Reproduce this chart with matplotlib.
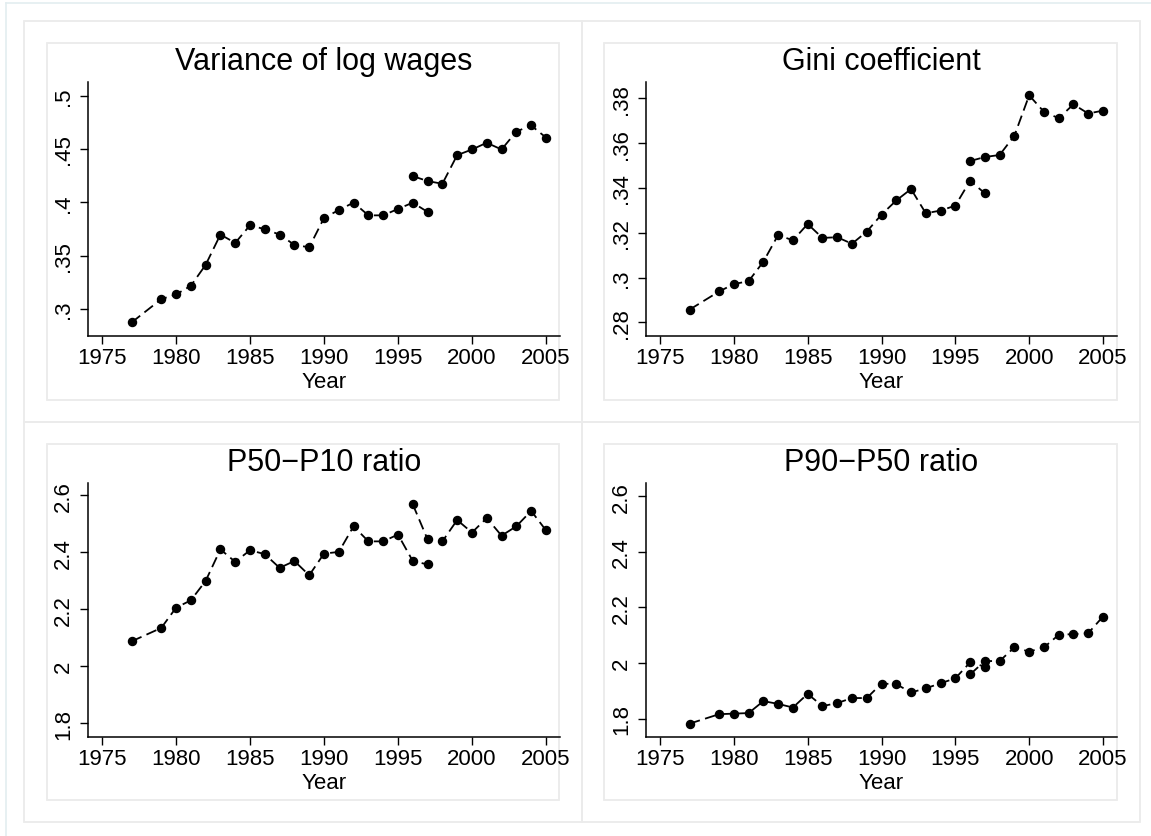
import matplotlib.pyplot as plt
from matplotlib.patches import Rectangle
from matplotlib.lines import Line2D

plt.rcParams['font.family'] = ['Liberation Sans', 'DejaVu Sans']

# data
years1 = [1977, 1979, 1980, 1981, 1982, 1983, 1984, 1985, 1986, 1987,
          1988, 1989, 1990, 1991, 1992, 1993, 1994, 1995, 1996, 1997]
years2 = [1996, 1997, 1998, 1999, 2000, 2001, 2002, 2003, 2004, 2005]

var1 = [0.2875, 0.3093, 0.3137, 0.3218, 0.3414, 0.3698, 0.3620, 0.3785, 0.3748, 0.3698,
        0.3601, 0.3579, 0.3853, 0.3928, 0.3997, 0.3878, 0.3878, 0.3938, 0.3997, 0.3910]
var2 = [0.4246, 0.4199, 0.4174, 0.4442, 0.4495, 0.4558, 0.4495, 0.4663, 0.4720, 0.4607]

gini1 = [0.2857, 0.2938, 0.2971, 0.2984, 0.3071, 0.3190, 0.3166, 0.3239, 0.3177, 0.3180,
         0.3151, 0.3205, 0.3281, 0.3344, 0.3395, 0.3287, 0.3299, 0.3321, 0.3432, 0.3376]
gini2 = [0.3520, 0.3538, 0.3547, 0.3633, 0.3813, 0.3740, 0.3711, 0.3773, 0.3732, 0.3745]

p5010_1 = [2.087, 2.134, 2.205, 2.231, 2.299, 2.410, 2.366, 2.407, 2.393, 2.345,
           2.369, 2.319, 2.395, 2.401, 2.491, 2.438, 2.438, 2.462, 2.369, 2.357]
p5010_2 = [2.568, 2.445, 2.438, 2.513, 2.469, 2.520, 2.458, 2.491, 2.545, 2.477]

p9050_1 = [1.782, 1.816, 1.818, 1.820, 1.863, 1.853, 1.840, 1.889, 1.845, 1.856,
           1.874, 1.874, 1.926, 1.924, 1.894, 1.909, 1.927, 1.945, 2.002, 1.987]
p9050_2 = [1.959, 2.007, 2.007, 2.056, 2.041, 2.056, 2.101, 2.104, 2.107, 2.167]

xticks = [1975, 1980, 1985, 1990, 1995, 2000, 2005]

W, H = 1151, 837
fig = plt.figure(figsize=(W / 100, H / 100), dpi=100)


def frac(x0, y0, x1, y1):
    # pixel box (top-left origin) -> figure fraction
    return [x0 / W, 1 - y1 / H, (x1 - x0) / W, (y1 - y0) / H]


box_col = '#ebebeb'
# outer frame lines (only left/top visible)
fig.add_artist(Line2D([6 / W, 6 / W], [0, 1 - 4 / H], color='#e3edf0', lw=1.2,
                      transform=fig.transFigure, zorder=-2))
fig.add_artist(Line2D([6 / W, 1], [1 - 4 / H, 1 - 4 / H], color='#e3edf0', lw=1.2,
                      transform=fig.transFigure, zorder=-2))

cells_x = [24, 581.7, 1140]
cells_y = [22, 422.7, 823.3]
for i in range(2):
    for j in range(2):
        x0, x1 = cells_x[j], cells_x[j + 1]
        y0, y1 = cells_y[i], cells_y[i + 1]
        r = frac(x0, y0, x1, y1)
        fig.add_artist(Rectangle((r[0], r[1]), r[2], r[3], fill=False, ec=box_col,
                                 lw=1.3, transform=fig.transFigure, zorder=-2))
        r = frac(x0 + 22.7, y0 + 22, x1 - 22.7, y1 - 22)
        fig.add_artist(Rectangle((r[0], r[1]), r[2], r[3], fill=False, ec=box_col,
                                 lw=1.3, transform=fig.transFigure, zorder=-2))

panels = [
    ('Variance of log wages', var1, var2, (0.2745, 0.5130),
     [0.3, 0.35, 0.4, 0.45, 0.5], ['.3', '.35', '.4', '.45', '.5'],
     (88, 82.7, 560, 337.3)),
    ('Gini coefficient', gini1, gini2, (0.2738, 0.3874),
     [0.28, 0.30, 0.32, 0.34, 0.36, 0.38], ['.28', '.3', '.32', '.34', '.36', '.38'],
     (646, 82.7, 1117, 337.3)),
    ('P50\u2212P10 ratio', p5010_1, p5010_2, (1.751, 2.643),
     [1.8, 2.0, 2.2, 2.4, 2.6], ['1.8', '2', '2.2', '2.4', '2.6'],
     (88, 484, 560, 738)),
    ('P90\u2212P50 ratio', p9050_1, p9050_2, (1.734, 2.647),
     [1.8, 2.0, 2.2, 2.4, 2.6], ['1.8', '2', '2.2', '2.4', '2.6'],
     (646, 484, 1117, 738)),
]

for title, s1, s2, ylim, yt, ytl, pos in panels:
    ax = fig.add_axes(frac(*pos))
    ax.patch.set_alpha(0)
    for yrs, vals in ((years1, s1), (years2, s2)):
        ax.plot(yrs, vals, color='black', lw=1.3, dashes=(6, 3),
                marker='o', markersize=5.8, markerfacecolor='black',
                markeredgecolor='black', clip_on=False)
    ax.set_xlim(1974.05, 2005.95)
    ax.set_ylim(*ylim)
    ax.set_xticks(xticks)
    ax.set_xticklabels([str(x) for x in xticks])
    ax.set_yticks(yt)
    ax.set_yticklabels(ytl, rotation=90, va='center')
    ax.spines['top'].set_visible(False)
    ax.spines['right'].set_visible(False)
    for sp in ('left', 'bottom'):
        ax.spines[sp].set_linewidth(1.1)
    ax.tick_params(direction='out', length=6, width=1.0, labelsize=16, pad=2)
    ax.tick_params(axis='y', pad=4)
    ax.set_title(title, fontsize=22, pad=9)
    ax.set_xlabel('Year', fontsize=16, labelpad=2)

fig.savefig('out.png', dpi=100)
